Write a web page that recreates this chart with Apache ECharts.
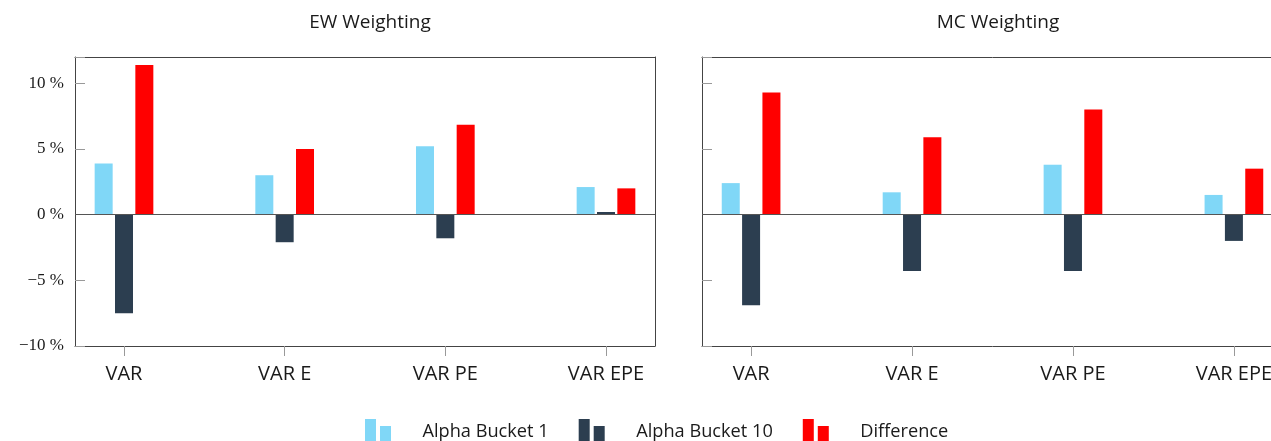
<!DOCTYPE html>
<html>
<head>
<meta charset="utf-8">
<script src="https://cdn.jsdelivr.net/npm/echarts@6/dist/echarts.min.js"></script>
<style>
  html, body { margin: 0; padding: 0; background: #fff; overflow: hidden; }
  /* 右侧图在原图中被裁掉一截，画布稍宽一些 */
  #chart { width: 1300px; height: 441px; }
</style>
</head>
<body>
<div id="chart"></div>
<script>
// 数据
const categories = ['VAR', 'VAR E', 'VAR PE', 'VAR EPE']
const panelTitles = ['EW Weighting', 'MC Weighting']
const seriesNames = ['Alpha Bucket 1', 'Alpha Bucket 10', 'Difference']
const yTicks = [-10, -5, 0, 5, 10]

const ewBucket1 = [3.9, 3.0, 5.2, 2.1]
const ewBucket10 = [-7.5, -2.1, -1.8, 0.2]
const ewDiff = [11.4, 5.0, 6.85, 2.0]

const mcBucket1 = [2.4, 1.7, 3.8, 1.5]
const mcBucket10 = [-6.9, -4.3, -4.3, -2.0]
const mcDiff = [9.3, 5.9, 8.0, 3.5]

const colors = ['#80d7f7', '#2c3e50', '#ff0000']
const sans = '"Open Sans", Lato, sans-serif'
const serif = '"Liberation Serif", "DejaVu Serif", serif'
const frameColor = '#444'

function fmtPct(v) {
  return (v < 0 ? '\u2212' + -v : v) + ' %'
}

function xAxisFor(idx) {
  const ticks = categories.map((c, i) => i)
  return {
    type: 'value',
    gridIndex: idx,
    min: -0.305,
    max: categories.length - 1 + 0.305,
    splitLine: { show: false },
    axisLine: { onZero: false, lineStyle: { color: frameColor, width: 1 } },
    axisTick: { show: true, length: 10, customValues: ticks, lineStyle: { color: '#999' } },
    axisLabel: {
      customValues: ticks,
      margin: 18,
      color: '#1a1a1a',
      fontFamily: sans,
      fontSize: 20,
      formatter: (v) => categories[Math.round(v)],
    },
  }
}

function yAxisFor(idx, showLabels) {
  return {
    type: 'value',
    gridIndex: idx,
    min: -10,
    max: 12,
    interval: 5,
    splitLine: { show: false },
    axisLine: { show: true, onZero: false, lineStyle: { color: frameColor, width: 1 } },
    axisTick: { show: true, inside: true, length: 10, lineStyle: { color: '#999' } },
    axisLabel: {
      show: showLabels,
      margin: 11,
      color: '#1a1a1a',
      fontFamily: serif,
      fontSize: 17,
      customValues: yTicks,
      formatter: fmtPct,
    },
  }
}

// 只画边框线的轴
function frameAxis(idx, position) {
  return {
    type: 'value',
    gridIndex: idx,
    position: position,
    min: 0,
    max: 1,
    splitLine: { show: false },
    axisTick: { show: false },
    axisLabel: { show: false },
    axisLine: { show: true, onZero: false, lineStyle: { color: frameColor, width: 1 } },
  }
}

function barSeries(name, arr, idx, k) {
  const s = {
    name: name,
    type: 'bar',
    xAxisIndex: idx,
    yAxisIndex: idx,
    barWidth: 18,
    barGap: '13%',
    itemStyle: { color: colors[k] },
    data: arr.map((v, i) => [i, v]),
  }
  if (k === 0) {
    s.markLine = {
      silent: true,
      symbol: 'none',
      label: { show: false },
      lineStyle: { color: '#555', width: 1.2, type: 'solid' },
      data: [{ yAxis: 0 }],
    }
  }
  return s
}

let myChart = echarts.init(document.getElementById('chart'))
let titleStyle = { fontFamily: sans, fontSize: 19, fontWeight: 'normal', color: '#1a1a1a' }
let option = {
  animation: false,
  title: [
    { text: panelTitles[0], left: 365, top: 8, textAlign: 'center', textStyle: titleStyle },
    { text: panelTitles[1], left: 993, top: 8, textAlign: 'center', textStyle: titleStyle },
  ],
  legend: {
    left: 365,
    top: 419,
    padding: 0,
    itemWidth: 27,
    itemHeight: 26,
    itemGap: 30,
    icon: 'path://M0,0H11V26H0Z M15,7H26V26H15Z',
    textStyle: { fontFamily: sans, fontSize: 18.2, color: '#1a1a1a', padding: [0, 0, 0, 26] },
    data: seriesNames,
  },
  grid: [
    { left: 75, top: 57, width: 580, height: 289, outerBoundsMode: 'none' },
    { left: 702, top: 57, width: 581, height: 289, outerBoundsMode: 'none' },
  ],
  xAxis: [xAxisFor(0), xAxisFor(1), frameAxis(0, 'top'), frameAxis(1, 'top')],
  yAxis: [yAxisFor(0, true), yAxisFor(1, false), frameAxis(0, 'right')],
  series: [
    barSeries(seriesNames[0], ewBucket1, 0, 0),
    barSeries(seriesNames[1], ewBucket10, 0, 1),
    barSeries(seriesNames[2], ewDiff, 0, 2),
    barSeries(seriesNames[0], mcBucket1, 1, 0),
    barSeries(seriesNames[1], mcBucket10, 1, 1),
    barSeries(seriesNames[2], mcDiff, 1, 2),
  ],
}
myChart.setOption(option)
</script>
</body>
</html>
